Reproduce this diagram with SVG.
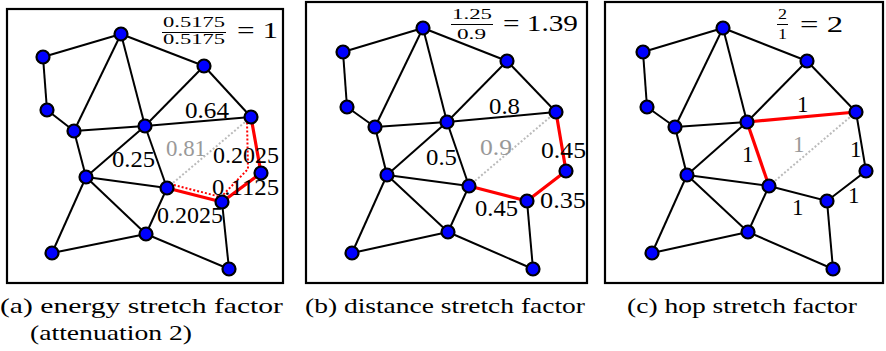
<svg xmlns="http://www.w3.org/2000/svg" width="886" height="351" viewBox="0 0 886 351">
<style>
.frame{fill:none;stroke:#000;stroke-width:2.2}
.e{stroke:#000;stroke-width:2;fill:none}
.r{stroke:#f00;stroke-width:3.2;fill:none;stroke-linejoin:round}
.rd{stroke:#f00;stroke-width:2;fill:none;stroke-dasharray:2 2}
.gd{stroke:#bbb;stroke-width:2;fill:none;stroke-dasharray:2 2}
.n circle{fill:#00f;stroke:#000;stroke-width:2.2}
.lb{font-size:23px}
.g{fill:#999}
.fr{font-size:15px}
.cap{font-size:21px}
.bar{stroke:#000;stroke-width:1}
</style>
<rect class="frame" x="7" y="9" width="276" height="274"/>
<rect class="frame" x="306" y="2" width="281" height="281"/>
<rect class="frame" x="605" y="2" width="278" height="281"/>
<g id="connectors">
<g id="edges-a">
<line class="e" x1="121" y1="34" x2="43" y2="57"/>
<line class="e" x1="121" y1="34" x2="204" y2="66"/>
<line class="e" x1="121" y1="34" x2="74" y2="131"/>
<line class="e" x1="121" y1="34" x2="145" y2="126"/>
<line class="e" x1="43" y1="57" x2="47" y2="110"/>
<line class="e" x1="47" y1="110" x2="74" y2="131"/>
<line class="e" x1="74" y1="131" x2="145" y2="126"/>
<line class="e" x1="204" y1="66" x2="145" y2="126"/>
<line class="e" x1="204" y1="66" x2="251" y2="117"/>
<line class="e" x1="145" y1="126" x2="251" y2="117"/>
<line class="e" x1="74" y1="131" x2="86" y2="177"/>
<line class="e" x1="145" y1="126" x2="86" y2="177"/>
<line class="e" x1="145" y1="126" x2="167" y2="188"/>
<line class="e" x1="86" y1="177" x2="167" y2="188"/>
<line class="e" x1="86" y1="177" x2="146" y2="234"/>
<line class="e" x1="86" y1="177" x2="52" y2="253"/>
<line class="e" x1="167" y1="188" x2="146" y2="234"/>
<line class="e" x1="146" y1="234" x2="52" y2="253"/>
<line class="e" x1="146" y1="234" x2="229" y2="269"/>
<line class="e" x1="222" y1="202" x2="229" y2="269"/>
<line class="gd" x1="167" y1="188" x2="251" y2="117"/>
<polyline class="r" points="167,188 222,202 261,173 251,117"/>
<polyline class="rd" points="170,184 221,197 248,169 247,121"/>
</g>
<g id="edges-b">
<line class="e" x1="423" y1="28" x2="343" y2="52"/>
<line class="e" x1="423" y1="28" x2="507" y2="61"/>
<line class="e" x1="423" y1="28" x2="375" y2="127"/>
<line class="e" x1="423" y1="28" x2="447" y2="122"/>
<line class="e" x1="343" y1="52" x2="347" y2="107"/>
<line class="e" x1="347" y1="107" x2="375" y2="127"/>
<line class="e" x1="375" y1="127" x2="447" y2="122"/>
<line class="e" x1="507" y1="61" x2="447" y2="122"/>
<line class="e" x1="507" y1="61" x2="556" y2="112"/>
<line class="e" x1="447" y1="122" x2="556" y2="112"/>
<line class="e" x1="375" y1="127" x2="387" y2="175"/>
<line class="e" x1="447" y1="122" x2="387" y2="175"/>
<line class="e" x1="447" y1="122" x2="469" y2="186"/>
<line class="e" x1="387" y1="175" x2="469" y2="186"/>
<line class="e" x1="387" y1="175" x2="448" y2="232"/>
<line class="e" x1="387" y1="175" x2="352" y2="253"/>
<line class="e" x1="469" y1="186" x2="448" y2="232"/>
<line class="e" x1="448" y1="232" x2="352" y2="253"/>
<line class="e" x1="448" y1="232" x2="533" y2="269"/>
<line class="e" x1="527" y1="201" x2="533" y2="269"/>
<line class="gd" x1="469" y1="186" x2="556" y2="112"/>
<polyline class="r" points="469,186 527,201 566,171 556,112"/>
</g>
<g id="edges-c">
<line class="e" x1="723" y1="28" x2="643" y2="52"/>
<line class="e" x1="723" y1="28" x2="807" y2="61"/>
<line class="e" x1="723" y1="28" x2="675" y2="127"/>
<line class="e" x1="723" y1="28" x2="747" y2="122"/>
<line class="e" x1="643" y1="52" x2="647" y2="107"/>
<line class="e" x1="647" y1="107" x2="675" y2="127"/>
<line class="e" x1="675" y1="127" x2="747" y2="122"/>
<line class="e" x1="807" y1="61" x2="747" y2="122"/>
<line class="e" x1="807" y1="61" x2="856" y2="112"/>
<line class="e" x1="675" y1="127" x2="687" y2="175"/>
<line class="e" x1="747" y1="122" x2="687" y2="175"/>
<line class="e" x1="687" y1="175" x2="769" y2="186"/>
<line class="e" x1="687" y1="175" x2="748" y2="232"/>
<line class="e" x1="687" y1="175" x2="652" y2="253"/>
<line class="e" x1="769" y1="186" x2="748" y2="232"/>
<line class="e" x1="748" y1="232" x2="652" y2="253"/>
<line class="e" x1="748" y1="232" x2="833" y2="269"/>
<line class="e" x1="827" y1="201" x2="833" y2="269"/>
<polyline class="e" points="769,186 827,201 866,171 856,112"/>
<line class="gd" x1="769" y1="186" x2="856" y2="112"/>
<line class="r" x1="747" y1="122" x2="856" y2="112"/>
<line class="r" x1="747" y1="122" x2="769" y2="186"/>
</g>
</g>
<g id="nodes-a">
<g id="a-n1" class="n"><circle cx="121" cy="34" r="6.5"/></g>
<g id="a-n2" class="n"><circle cx="43" cy="57" r="6.5"/></g>
<g id="a-n3" class="n"><circle cx="204" cy="66" r="6.5"/></g>
<g id="a-n4" class="n"><circle cx="47" cy="110" r="6.5"/></g>
<g id="a-n5" class="n"><circle cx="74" cy="131" r="6.5"/></g>
<g id="a-n6" class="n"><circle cx="145" cy="126" r="6.5"/></g>
<g id="a-n7" class="n"><circle cx="251" cy="117" r="6.5"/></g>
<g id="a-n8" class="n"><circle cx="86" cy="177" r="6.5"/></g>
<g id="a-n9" class="n"><circle cx="167" cy="188" r="6.5"/></g>
<g id="a-n10" class="n"><circle cx="261" cy="173" r="6.5"/></g>
<g id="a-n11" class="n"><circle cx="222" cy="202" r="6.5"/></g>
<g id="a-n12" class="n"><circle cx="146" cy="234" r="6.5"/></g>
<g id="a-n13" class="n"><circle cx="52" cy="253" r="6.5"/></g>
<g id="a-n14" class="n"><circle cx="229" cy="269" r="6.5"/></g>
</g>
<g id="nodes-b">
<g id="b-n1" class="n"><circle cx="423" cy="28" r="6.5"/></g>
<g id="b-n2" class="n"><circle cx="343" cy="52" r="6.5"/></g>
<g id="b-n3" class="n"><circle cx="507" cy="61" r="6.5"/></g>
<g id="b-n4" class="n"><circle cx="347" cy="107" r="6.5"/></g>
<g id="b-n5" class="n"><circle cx="375" cy="127" r="6.5"/></g>
<g id="b-n6" class="n"><circle cx="447" cy="122" r="6.5"/></g>
<g id="b-n7" class="n"><circle cx="556" cy="112" r="6.5"/></g>
<g id="b-n8" class="n"><circle cx="387" cy="175" r="6.5"/></g>
<g id="b-n9" class="n"><circle cx="469" cy="186" r="6.5"/></g>
<g id="b-n10" class="n"><circle cx="566" cy="171" r="6.5"/></g>
<g id="b-n11" class="n"><circle cx="527" cy="201" r="6.5"/></g>
<g id="b-n12" class="n"><circle cx="448" cy="232" r="6.5"/></g>
<g id="b-n13" class="n"><circle cx="352" cy="253" r="6.5"/></g>
<g id="b-n14" class="n"><circle cx="533" cy="269" r="6.5"/></g>
</g>
<g id="nodes-c">
<g id="c-n1" class="n"><circle cx="723" cy="28" r="6.5"/></g>
<g id="c-n2" class="n"><circle cx="643" cy="52" r="6.5"/></g>
<g id="c-n3" class="n"><circle cx="807" cy="61" r="6.5"/></g>
<g id="c-n4" class="n"><circle cx="647" cy="107" r="6.5"/></g>
<g id="c-n5" class="n"><circle cx="675" cy="127" r="6.5"/></g>
<g id="c-n6" class="n"><circle cx="747" cy="122" r="6.5"/></g>
<g id="c-n7" class="n"><circle cx="856" cy="112" r="6.5"/></g>
<g id="c-n8" class="n"><circle cx="687" cy="175" r="6.5"/></g>
<g id="c-n9" class="n"><circle cx="769" cy="186" r="6.5"/></g>
<g id="c-n10" class="n"><circle cx="866" cy="171" r="6.5"/></g>
<g id="c-n11" class="n"><circle cx="827" cy="201" r="6.5"/></g>
<g id="c-n12" class="n"><circle cx="748" cy="232" r="6.5"/></g>
<g id="c-n13" class="n"><circle cx="652" cy="253" r="6.5"/></g>
<g id="c-n14" class="n"><circle cx="833" cy="269" r="6.5"/></g>
</g>
<g id="texts" font-family="'Liberation Serif', 'DejaVu Serif', serif" fill="#000">
<g id="labels-a">
<text class="fr" x="163" y="27" textLength="62" lengthAdjust="spacingAndGlyphs">0.5175</text>
<line class="bar" x1="162" y1="32.5" x2="226" y2="32.5"/>
<text class="fr" x="163" y="44" textLength="62" lengthAdjust="spacingAndGlyphs">0.5175</text>
<text class="lb" x="237" y="38" textLength="41" lengthAdjust="spacingAndGlyphs">= 1</text>
<text class="lb" x="185" y="118" textLength="44" lengthAdjust="spacingAndGlyphs">0.64</text>
<text class="lb g" x="166" y="156" textLength="40" lengthAdjust="spacingAndGlyphs">0.81</text>
<text class="lb" x="112" y="167" textLength="43" lengthAdjust="spacingAndGlyphs">0.25</text>
<text class="lb" x="213" y="163" textLength="66" lengthAdjust="spacingAndGlyphs">0.2025</text>
<text class="lb" x="212" y="195" textLength="67" lengthAdjust="spacingAndGlyphs">0.1125</text>
<text class="lb" x="157" y="223" textLength="66" lengthAdjust="spacingAndGlyphs">0.2025</text>
</g>
<g id="labels-b">
<text class="fr" x="452" y="19" textLength="40" lengthAdjust="spacingAndGlyphs">1.25</text>
<line class="bar" x1="451" y1="24.5" x2="493" y2="24.5"/>
<text class="fr" x="457" y="39" textLength="29" lengthAdjust="spacingAndGlyphs">0.9</text>
<text class="lb" x="503" y="31" textLength="75" lengthAdjust="spacingAndGlyphs">= 1.39</text>
<text class="lb" x="489" y="114" textLength="31" lengthAdjust="spacingAndGlyphs">0.8</text>
<text class="lb g" x="480" y="155" textLength="32" lengthAdjust="spacingAndGlyphs">0.9</text>
<text class="lb" x="426" y="165" textLength="31" lengthAdjust="spacingAndGlyphs">0.5</text>
<text class="lb" x="541" y="158" textLength="45" lengthAdjust="spacingAndGlyphs">0.45</text>
<text class="lb" x="540" y="208" textLength="46" lengthAdjust="spacingAndGlyphs">0.35</text>
<text class="lb" x="475" y="216" textLength="43" lengthAdjust="spacingAndGlyphs">0.45</text>
</g>
<g id="labels-c">
<text class="fr" x="778" y="19" textLength="9" lengthAdjust="spacingAndGlyphs">2</text>
<line class="bar" x1="777" y1="24.5" x2="788" y2="24.5"/>
<text class="fr" x="778" y="39" textLength="9" lengthAdjust="spacingAndGlyphs">1</text>
<text class="lb" x="800" y="32" textLength="43" lengthAdjust="spacingAndGlyphs">= 2</text>
<text class="lb" x="797" y="112">1</text>
<text class="lb g" x="793" y="152">1</text>
<text class="lb" x="850" y="157">1</text>
<text class="lb" x="742" y="162">1</text>
<text class="lb" x="792" y="215">1</text>
<text class="lb" x="848" y="203">1</text>
</g>
<g id="captions">
<text class="cap" x="0" y="313" textLength="283" lengthAdjust="spacingAndGlyphs">(a) energy stretch factor</text>
<text class="cap" x="30" y="340" textLength="162" lengthAdjust="spacingAndGlyphs">(attenuation 2)</text>
<text class="cap" x="305" y="313" textLength="280" lengthAdjust="spacingAndGlyphs">(b) distance stretch factor</text>
<text class="cap" x="627" y="313" textLength="230" lengthAdjust="spacingAndGlyphs">(c) hop stretch factor</text>
</g>
</g>
</svg>
